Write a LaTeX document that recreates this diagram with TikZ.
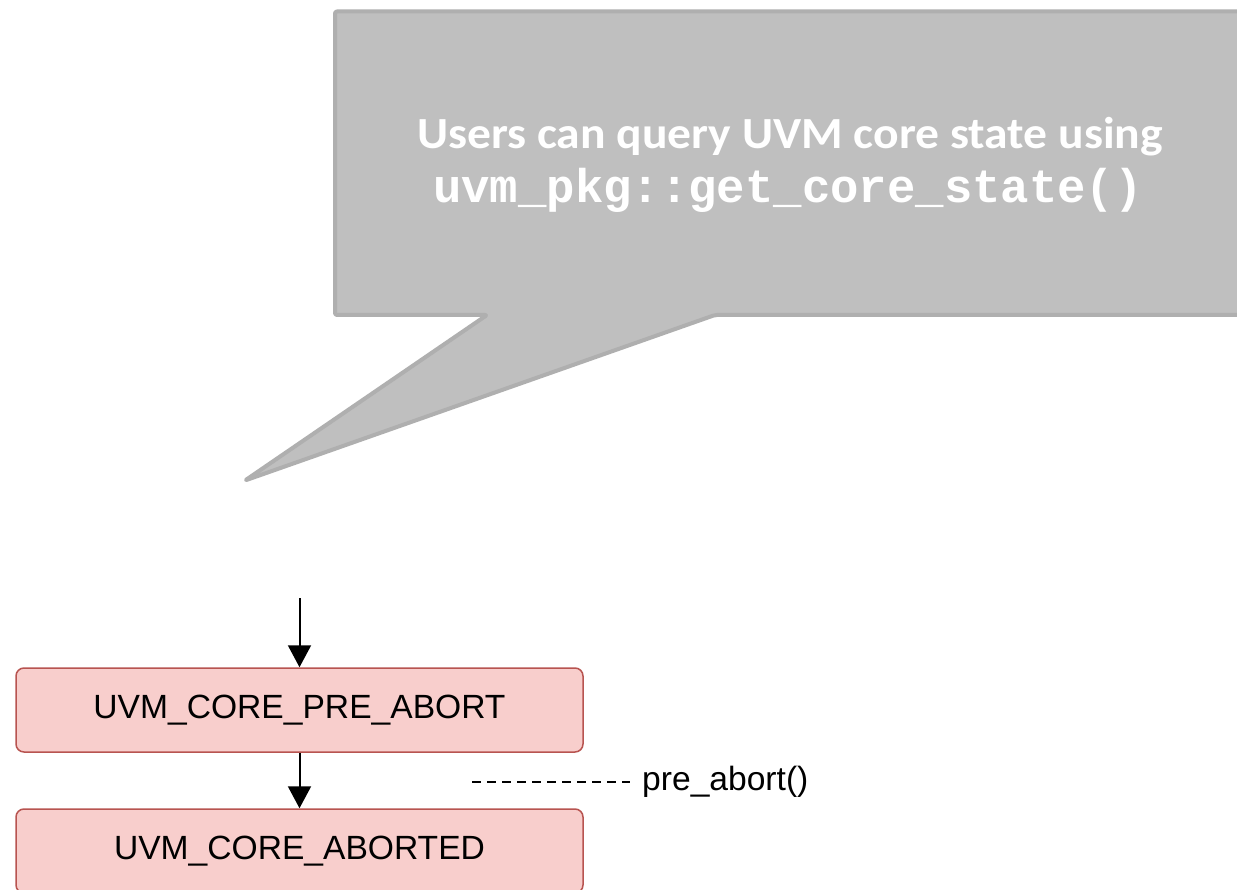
\documentclass[tikz,border=0pt]{standalone}
\usepackage{fontspec}
\setmainfont{Liberation Sans}
\newfontfamily\calloutfont{Carlito}
\newfontfamily\codefont{Liberation Mono}
\usetikzlibrary{arrows.meta}
\definecolor{calloutfill}{HTML}{BFBFBF}
\definecolor{calloutline}{HTML}{AFAFAF}
\definecolor{statefill}{HTML}{F8CECC}
\definecolor{stateline}{HTML}{B85450}
\tikzset{
  statebox/.style={draw=stateline, fill=statefill, line width=1.5pt, rounded corners=8pt,
    minimum width=567pt, minimum height=84pt, inner sep=0pt,
    font=\fontsize{33.6}{38}\selectfont},
  flowarrow/.style={draw=black, line width=2pt, -{Triangle[width=23pt,length=22pt]}},
  calloutshape/.style={fill=calloutfill, draw=calloutline, line width=4pt, rounded corners=2pt, line join=round},
  callouttext/.style={text=white, anchor=base, inner sep=0pt},
  eventline/.style={draw=black, line width=1.4pt, dash pattern=on 9pt off 6pt},
  eventlabel/.style={anchor=west, inner sep=2pt, font=\fontsize{33.6}{38}\selectfont}
}
\begin{document}
\begin{tikzpicture}[x=1pt, y=-1pt]
\useasboundingbox (0,0) rectangle (1237,890);
\fill[white] (0,0) rectangle (1237,890);
\clip (0,0) rectangle (1237,890);

% callout
\draw[calloutshape] (335,11.5) -- (1260,11.5) -- (1260,315) -- (715,315) -- (245,480.5)
  -- (487,315) -- (335,315) -- cycle;
\node[callouttext, font=\calloutfont\bfseries\fontsize{44.5}{48}\selectfont] (line1) at (790,149)
  {\scalebox{1.07}[1]{Users can query UVM core state using}};
\node[callouttext, font=\codefont\bfseries\fontsize{47.3}{50}\selectfont] (line2) at (788,203)
  {uvm\_pkg::get\_core\_state()};

% states
\coordinate (entry) at (299.5,598);
\node[statebox] (preabort) at (299.5,710) {UVM\_CORE\_PRE\_ABORT};
\node[statebox] (aborted) at (299.5,851) {UVM\_CORE\_ABORTED};
\draw[flowarrow] (entry) -- (preabort.north);
\draw[flowarrow] (preabort.south) -- (aborted.north);

% event
\coordinate (evstart) at (472,782);
\node[eventlabel] (evlabel) at (640,782) {pre\_abort()};
\draw[eventline] (evstart) -- ([xshift=-10pt]evlabel.west);
\end{tikzpicture}
\end{document}
